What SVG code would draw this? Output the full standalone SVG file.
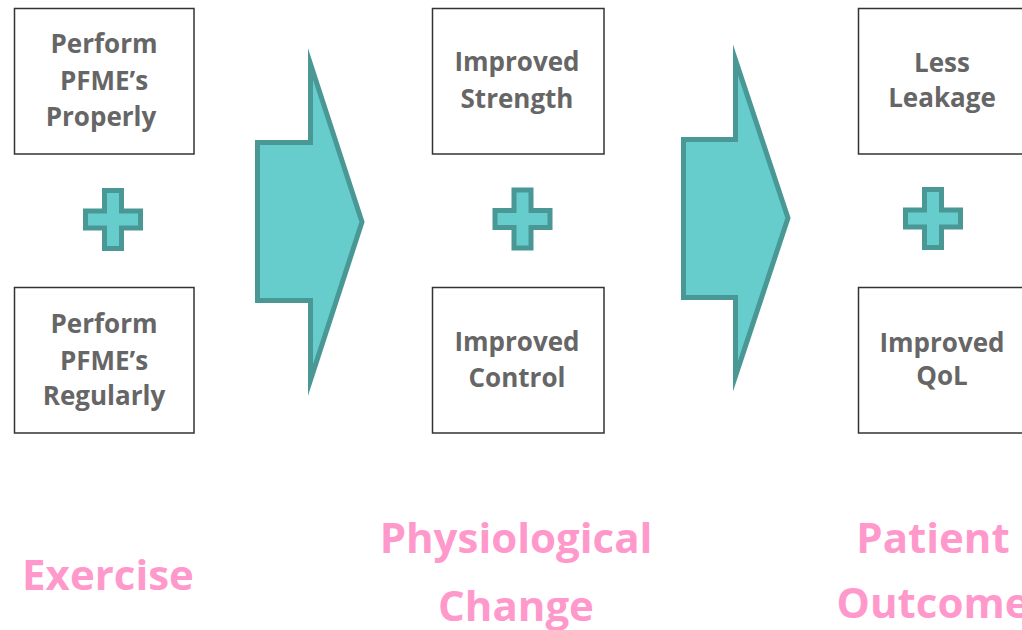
<svg xmlns="http://www.w3.org/2000/svg" width="1022" height="630" viewBox="0 0 1022 630">
  <defs>
    <style>
      .box { fill: #ffffff; stroke: #333333; stroke-width: 1.5; }
      .lbl { font-family: "Open Sans", "Liberation Sans", sans-serif; font-weight: 700; font-size: 26px; fill: #666666; text-anchor: middle; }
      .stage { font-family: "Open Sans", "Liberation Sans", sans-serif; font-weight: 700; font-size: 42px; fill: #ff99cc; text-anchor: middle; }
      .teal { fill: #66cccc; stroke: #4a9896; stroke-width: 5; stroke-linejoin: miter; stroke-miterlimit: 10; }
    </style>
    <!-- plus sign centred on the origin -->
    <path id="plus" d="M -8.5 -29 H 8.5 V -8.5 H 27.5 V 8.5 H 8.5 V 29 H -8.5 V 8.5 H -27.5 V -8.5 H -8.5 Z"/>
  </defs>
  <rect width="1022" height="630" fill="#ffffff"/>

  <!-- Exercise column -->
  <g id="node-properly">
    <rect class="box" x="14.5" y="8.5" width="179.5" height="145.5"/>
    <text class="lbl" x="104" y="53">Perform</text>
    <text class="lbl" x="104" y="90">PFME’s</text>
    <text class="lbl" x="101" y="126">Properly</text>
  </g>
  <g id="node-regularly">
    <rect class="box" x="14.5" y="287.5" width="179.5" height="145.5"/>
    <text class="lbl" x="104" y="333">Perform</text>
    <text class="lbl" x="104" y="370">PFME’s</text>
    <text class="lbl" x="104" y="405">Regularly</text>
  </g>

  <!-- Physiological change column -->
  <g id="node-strength">
    <rect class="box" x="432.5" y="8.5" width="171.5" height="145.5"/>
    <text class="lbl" x="517" y="71">Improved</text>
    <text class="lbl" x="517" y="108">Strength</text>
  </g>
  <g id="node-control">
    <rect class="box" x="432.5" y="287.5" width="171.5" height="145.5"/>
    <text class="lbl" x="517" y="351">Improved</text>
    <text class="lbl" x="517" y="387">Control</text>
  </g>

  <!-- Patient outcome column -->
  <g id="node-leakage">
    <rect class="box" x="858.5" y="8.5" width="172" height="145.5"/>
    <text class="lbl" x="942" y="72">Less</text>
    <text class="lbl" x="942" y="107">Leakage</text>
  </g>
  <g id="node-qol">
    <rect class="box" x="858.5" y="287.5" width="172" height="145.5"/>
    <text class="lbl" x="942" y="352">Improved</text>
    <text class="lbl" x="942" y="385">QoL</text>
  </g>

  <!-- plus signs and block arrows -->
  <g id="connectors">
    <use href="#plus" class="teal" transform="translate(113 219.5)"/>
    <use href="#plus" class="teal" transform="translate(522.5 219)"/>
    <use href="#plus" class="teal" transform="translate(933 218.5)"/>
    <path class="teal" d="M 257.5 142.5 H 310.5 V 64 L 362 222 L 310.5 380 V 300.5 H 257.5 Z"/>
    <path class="teal" d="M 683.5 139.5 H 735.5 V 60 L 788 218 L 735.5 376 V 297.5 H 683.5 Z"/>
  </g>

  <!-- stage headings -->
  <g id="stage-labels">
    <text class="stage" x="108" y="590">Exercise</text>
    <text class="stage" x="516" y="553">Physiological</text>
    <text class="stage" x="516" y="621">Change</text>
    <text class="stage" x="933" y="553">Patient</text>
    <text class="stage" x="933" y="618">Outcome</text>
  </g>
</svg>
